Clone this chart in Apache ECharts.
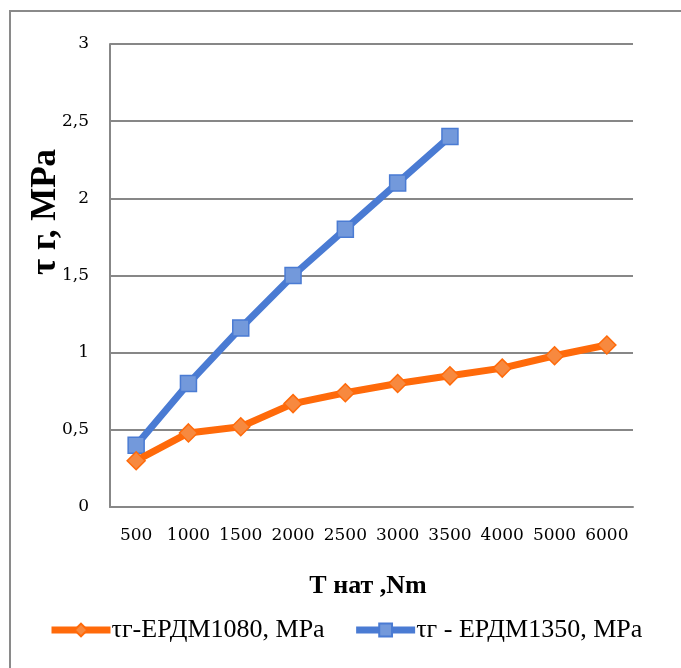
<!DOCTYPE html>
<html>
<head>
<meta charset="utf-8">
<script src="https://cdn.jsdelivr.net/npm/echarts@6/dist/echarts.min.js"></script>
<style>html,body{margin:0;padding:0;background:#fff;}#c{width:681px;height:668px;}</style>
</head>
<body>
<div id="c"></div>
<script>
var categories = ['500','1000','1500','2000','2500','3000','3500','4000','5000','6000'];
var seriesNames = ['τг-ЕРДМ1080, MPa', 'τг - ЕРДМ1350, MPa'];
var valuesEPDM1080 = [0.30, 0.48, 0.52, 0.67, 0.74, 0.80, 0.85, 0.90, 0.98, 1.05];
var valuesEPDM1350 = [0.40, 0.80, 1.16, 1.50, 1.80, 2.10, 2.40];
var yAxisTitle = 'τ г, MPa';
var xAxisTitle = 'T нат ,Nm';

var chart = echarts.init(document.getElementById('c'), null, {renderer: 'canvas'});
var gridColor = '#878787';
chart.setOption({
  animation: false,
  backgroundColor: '#fff',
  graphic: [
    {type: 'rect', shape: {x: 10, y: 11, width: 800, height: 800}, style: {fill: 'none', stroke: '#8a8a8a', lineWidth: 2}, silent: true},
    {type: 'text', x: 46, y: 212, rotation: Math.PI/2, style: {text: yAxisTitle, font: 'bold 35px "Liberation Serif", serif', fill: '#000', textAlign: 'center', textVerticalAlign: 'middle'}},
    {type: 'text', x: 368, y: 586, style: {text: xAxisTitle, font: 'bold 26px "Liberation Serif", serif', fill: '#000', textAlign: 'center', textVerticalAlign: 'middle'}}
  ],
  grid: {left: 110, right: 48, top: 44, bottom: 161, containLabel: false},
  legend: {
    top: 612, left: 43,
    itemWidth: 59, itemHeight: 16, itemGap: 28,
    lineStyle: {width: 7},
    textStyle: {fontFamily: '"Liberation Serif", serif', fontSize: 26, color: '#000', padding: [0,0,0,-4]},
    data: seriesNames
  },
  xAxis: {
    type: 'category',
    data: categories,
    boundaryGap: true,
    axisLine: {show: true, lineStyle: {color: gridColor, width: 2}},
    axisTick: {show: false},
    axisLabel: {color: '#000', fontFamily: '"DejaVu Serif", serif', fontSize: 17, margin: 20, interval: 0}
  },
  yAxis: {
    type: 'value',
    min: 0, max: 3, interval: 0.5,
    axisLine: {show: true, lineStyle: {color: gridColor, width: 2}},
    axisTick: {show: false},
    splitLine: {show: true, lineStyle: {color: gridColor, width: 2}},
    axisLabel: {color: '#000', fontFamily: '"DejaVu Serif", serif', fontSize: 17, margin: 21,
      formatter: function(v){ return String(v).replace('.', ','); }}
  },
  series: [
    {
      name: seriesNames[0], type: 'line', data: valuesEPDM1080,
      symbol: 'diamond', symbolSize: 18,
      lineStyle: {color: '#FF6A0A', width: 7},
      itemStyle: {color: '#F7893F', borderColor: '#FF6A0A', borderWidth: 1.5},
      z: 3
    },
    {
      name: seriesNames[1], type: 'line', data: valuesEPDM1350,
      symbol: 'rect', symbolSize: 16,
      lineStyle: {color: '#4A7BD3', width: 7},
      itemStyle: {color: '#7399DB', borderColor: '#4A7BD3', borderWidth: 1.5},
      z: 2
    }
  ]
});
</script>
</body>
</html>
